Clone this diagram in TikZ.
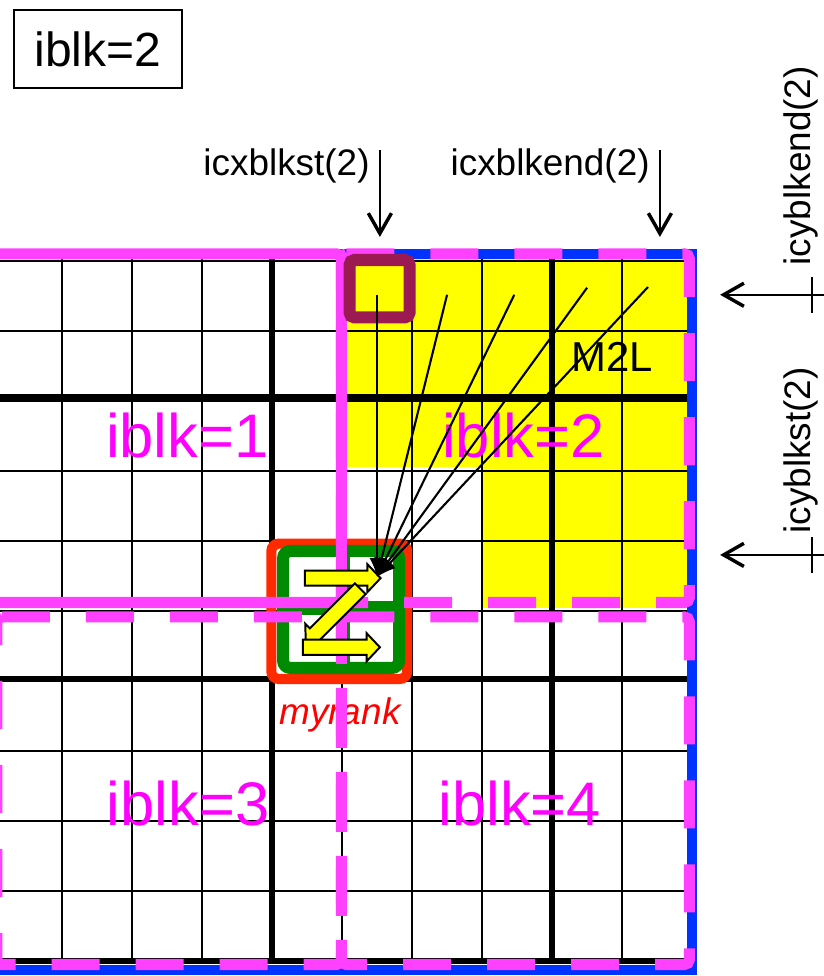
\documentclass[tikz,border=0pt]{standalone}
\usepackage{fontspec}
\setmainfont{Liberation Sans}
\usepackage{tikz}
\usetikzlibrary{arrows.meta, positioning, calc}
\definecolor{blkpink}{HTML}{FF40FF}
\definecolor{blkmagenta}{HTML}{FF00FF}
\definecolor{domblue}{HTML}{0033FF}
\definecolor{rankred}{HTML}{FF2A00}
\definecolor{rankgreen}{HTML}{008A00}
\definecolor{srcmaroon}{HTML}{9C1A52}
\definecolor{m2lyellow}{HTML}{FFFF00}

\tikzset{
  gridthin/.style={black, line width=1pt},
  gridthick/.style={black, line width=2.5pt},
  blkline/.style={blkpink, line width=4.5pt},
  blkdash/.style={blkline, rounded corners=2pt, dash pattern=on 0.686cm off 0.514cm},
  blklabel/.style={text=blkmagenta, font=\fontsize{25}{30}\selectfont},
  idxlabel/.style={font=\fontsize{15}{18}\selectfont, inner sep=0pt},
  idxarrow/.style={line width=0.8pt, -{Straight Barb[length=2.9mm, width=3.3mm, line width=1.4pt]}},
  m2larrow/.style={line width=0.85pt, -{Latex[length=2.7mm, width=2.2mm]}},
  zfill/.style={fill=m2lyellow, draw=black, line width=0.8pt},
  zarrow/.pic={
    \draw[zfill] (0,-0.107) -- (#1-0.19,-0.107) -- (#1-0.19,-0.2) -- (#1,0)
      -- (#1-0.19,0.2) -- (#1-0.19,0.107) -- (0,0.107) -- cycle;
  }
}

\begin{document}
\begin{tikzpicture}[x=1cm, y=1.007cm]
    \useasboundingbox (0.114,-0.213) rectangle (11.871,13.631);

    % M2L cells of block 2
    \fill[m2lyellow] (5,7) rectangle (10,10);
    \fill[m2lyellow] (7,5) rectangle (10,7);

    % Mesh
    \draw[gridthin] (-0.2,0) grid (10,10);
    \draw[gridthick, step=4] (-0.2,0) grid (10,10);

    % Block labels
    \node[blklabel] (blk1) at (2.79,7.46) {iblk=1};
    \node[blklabel] (blk2) at (7.59,7.46) {iblk=2};
    \node[blklabel] (blk3) at (2.80,2.23) {iblk=3};
    \node[blklabel] (blk4) at (7.54,2.23) {iblk=4};
    \node[text=red, font=\fontsize{15}{18}\selectfont\itshape, anchor=base] (mylbl) at (4.97,3.35) {myrank};

    % myrank cells
    \draw[rankred, line width=4.1pt, rounded corners=3pt] (3.99,4.0) rectangle (5.93,5.92);
    \draw[rankgreen, line width=4.9pt, rounded corners=3pt] (4.157,4.156) rectangle (5.814,5.816);
    \draw[rankgreen, line width=5.7pt] (5.014,4.156) -- (5.014,5.816) (4.157,5.007) -- (5.814,5.007);

    % Domain and blocks
    \draw[domblue, line width=4.1pt] (-0.3,-0.13) rectangle (10.0,10.03);
    \draw[blkline, rounded corners=2pt] (-0.3,5.085) rectangle (4.99,10.03);
    \draw[blkdash] (4.99,10.03) -- (9.96,10.03) -- (9.96,5.085) -- (4.99,5.085) -- cycle;
    \draw[blkdash] (0.07,4.88) -- (4.99,4.88) -- (4.99,-0.05) -- (0.07,-0.05) -- cycle;
    \draw[blkdash] (4.99,4.88) -- (9.96,4.88) -- (9.96,-0.05) -- (4.99,-0.05) -- cycle;

    % Source cell
    \draw[srcmaroon, line width=4.9pt, rounded corners=2pt] (5.107,9.128) rectangle (5.964,9.943);

    % Morton order
    \pic at (4.47,5.43) {zarrow=1.08};
    \pic[rotate=-135] at (5.26,5.28) {zarrow=1.1};
    \pic at (4.44,4.45) {zarrow=1.1};

    % M2L interactions
    \coordinate (tgt) at (5.5,5.45);
    \coordinate (src1) at (5.5,9.45);
    \coordinate (src2) at (6.5,9.45);
    \coordinate (src3) at (7.46,9.45);
    \coordinate (src4) at (8.5,9.55);
    \coordinate (src5) at (9.37,9.56);
    \draw[m2larrow] (src1) -- (tgt);
    \draw[m2larrow] (src2) -- (tgt);
    \draw[m2larrow] (src3) -- (tgt);
    \draw[m2larrow] (src4) -- (tgt);
    \draw[m2larrow] (src5) -- (tgt);
    \node[font=\fontsize{17}{20}\selectfont] (m2l) at (8.86,8.57) {M2L};

    % Header
    \node[draw, line width=0.8pt, minimum width=2.4cm, minimum height=1.118cm, inner sep=0pt,
          font=\fontsize{19.5}{23}\selectfont] (hdr) at (1.514,12.935) {iblk=2};

    % x range of block 2
    \node[idxlabel, anchor=east] (xst) at (5.40,11.28) {icxblkst(2)};
    \coordinate (xsttop) at (5.54,11.50);
    \coordinate (xsttip) at (5.54,10.27);
    \draw[idxarrow] (xsttop) -- (xsttip);
    \node[idxlabel, anchor=east] (xend) at (9.40,11.28) {icxblkend(2)};
    \coordinate (xendtop) at (9.54,11.50);
    \coordinate (xendtip) at (9.54,10.27);
    \draw[idxarrow] (xendtop) -- (xendtip);

    % y range of block 2
    \node[idxlabel, rotate=90] (yend) at (11.56,11.28) {icyblkend(2)};
    \coordinate (yendout) at (11.9,9.45);
    \coordinate (yendtip) at (10.40,9.45);
    \draw[idxarrow] (yendout) -- (yendtip);
    \coordinate (yendtka) at (11.71,9.70);
    \coordinate (yendtkb) at (11.71,9.19);
    \draw[line width=0.8pt] (yendtka) -- (yendtkb);
    \node[idxlabel, rotate=90] (yst) at (11.56,7.24) {icyblkst(2)};
    \coordinate (ystout) at (11.9,5.76);
    \coordinate (ysttip) at (10.40,5.76);
    \draw[idxarrow] (ystout) -- (ysttip);
    \coordinate (ysttka) at (11.71,6.01);
    \coordinate (ysttkb) at (11.71,5.50);
    \draw[line width=0.8pt] (ysttka) -- (ysttkb);
\end{tikzpicture}
\end{document}
